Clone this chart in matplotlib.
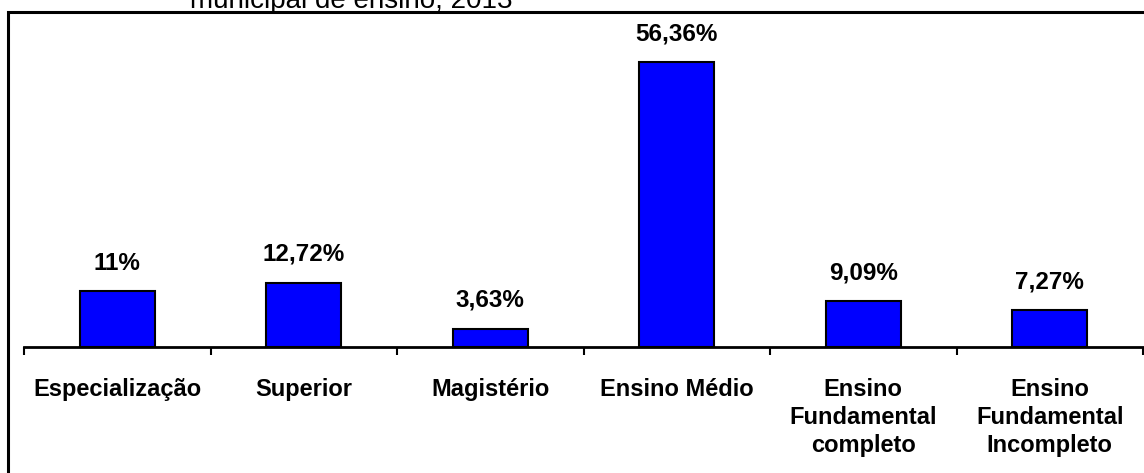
import matplotlib
matplotlib.use('Agg')
import matplotlib.pyplot as plt
import matplotlib.patches as patches
import numpy as np

categories = ['Especialização', 'Superior', 'Magistério', 'Ensino Médio',
              'Ensino\nFundamental\ncompleto', 'Ensino\nFundamental\nIncompleto']
values = [11, 12.72, 3.63, 56.36, 9.09, 7.27]
value_labels = ['11%', '12,72%', '3,63%', '56,36%', '9,09%', '7,27%']
title = 'municipal de ensino, 2013'

plt.rcParams['font.family'] = ['Liberation Sans', 'DejaVu Sans']

W, H = 1144, 473
fig = plt.figure(figsize=(W / 100, H / 100), dpi=100)
ax = fig.add_axes([24 / W, 126 / H, 1119 / W, 335 / H])

x = np.arange(len(categories))
ax.bar(x, values, width=0.4, color='#0000FF', edgecolor='black', linewidth=1.5, zorder=3)

for xi, v, lab in zip(x, values, value_labels):
    ax.annotate(lab, (xi, v), xytext=(0, 12), textcoords='offset points',
                ha='center', va='bottom', fontsize=17.5, fontweight='bold')

ax.set_xlim(-0.5, len(categories) - 0.5)
ax.set_ylim(0, 66.2)

# category labels at centres, ticks at the boundaries
ax.set_xticks(x)
ax.set_xticklabels(categories, fontsize=17, fontweight='bold', linespacing=1.3)
ax.tick_params(axis='x', which='major', length=0, pad=22)
ax.set_xticks(np.arange(len(categories) + 1) - 0.5, minor=True)
ax.tick_params(axis='x', which='minor', length=6, width=1.5, direction='out')
ax.set_yticks([])

for s in ['left', 'right', 'top']:
    ax.spines[s].set_visible(False)
ax.spines['bottom'].set_linewidth(2)

# outer frame of the chart area (cut at right and bottom in the original)
fig.patches.append(patches.Rectangle((8 / W, -0.05), 1.1, (H - 12) / H + 0.05,
                                     transform=fig.transFigure, fill=False,
                                     edgecolor='black', linewidth=2.2, clip_on=False))

fig.text(190 / W, (H - 8) / H, title, fontsize=20, ha='left', va='baseline')

fig.savefig('out.png', dpi=100)
plt.close(fig)
